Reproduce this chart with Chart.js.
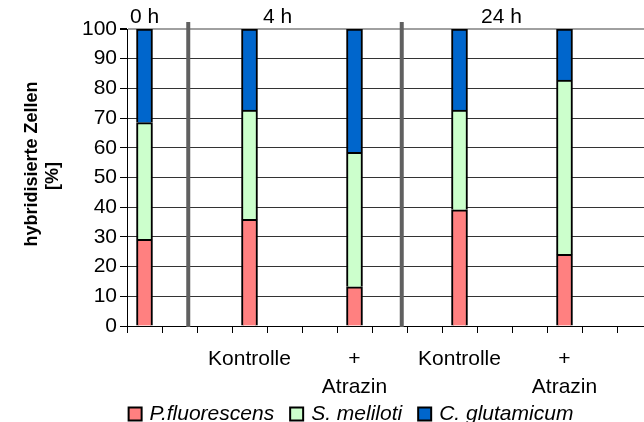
<!DOCTYPE html>
<html>
<head>
<meta charset="utf-8">
<script src="https://cdn.jsdelivr.net/npm/chart.js@4"></script>
<style>
  html, body { margin: 0; padding: 0; background: #fff; overflow: hidden; }
  #wrap { position: relative; width: 660px; height: 422px; }
</style>
</head>
<body>
<div id="wrap"><canvas id="chart"></canvas></div>
<script>
// ---------- data ----------
const categories = ['', '', '', 'Kontrolle', '', '', ['+', 'Atrazin'], '', '', 'Kontrolle', '', '', ['+', 'Atrazin'], '', ''];
const pFluorescens = [29.2, null, null, 35.9, null, null, 13.2, null, null, 39.1, null, null, 24.1, null, null];
const sMeliloti    = [39.3, null, null, 36.8, null, null, 45.3, null, null, 33.6, null, null, 58.7, null, null];
const cGlutamicum  = [31.5, null, null, 27.3, null, null, 41.5, null, null, 27.3, null, null, 17.2, null, null];
const seriesNames  = ['P.fluorescens', 'S. meliloti', 'C. glutamicum'];
const timeLabels   = ['0 h', '4 h', '24 h'];
const timeLabelAt  = [0, 3.8, 10.2];     // category index (fractional)
const separatorAt  = [1.25, 7.35];       // category index (fractional)
const yTitleLines  = ['hybridisierte Zellen', '[%]'];

const FONT = '"Liberation Sans", Arial, sans-serif';

// ---------- extra drawing ----------
const extras = {
  id: 'extras',
  beforeDatasetsDraw(chart) {
    const c = chart.ctx, x = chart.scales.x, y = chart.scales.y;
    c.save();
    c.strokeStyle = '#606060';
    c.lineWidth = 4;
    separatorAt.forEach(v => {
      const px = x.getPixelForValue(v);
      c.beginPath();
      c.moveTo(px, y.top - 7);
      c.lineTo(px, y.bottom + 1);
      c.stroke();
    });
    c.restore();
  },
  afterDraw(chart) {
    const c = chart.ctx, x = chart.scales.x, y = chart.scales.y;
    c.save();
    c.fillStyle = '#000';

    // time labels above the plot
    c.font = '21px ' + FONT;
    c.textAlign = 'center';
    c.textBaseline = 'middle';
    timeLabels.forEach((t, i) => c.fillText(t, x.getPixelForValue(timeLabelAt[i]), 17));

    // y axis title
    c.font = 'bold 18px ' + FONT;
    c.translate(0, 0);
    [[32, 164], [53, 176]].forEach((p, i) => {
      c.save();
      c.translate(p[0], p[1]);
      c.rotate(-Math.PI / 2);
      c.fillText(yTitleLines[i], 0, 0);
      c.restore();
    });

    // legend
    c.font = 'italic 21px ' + FONT;
    c.textAlign = 'left';
    const items = chart.data.datasets.map(d => ({ label: d.label, color: d.backgroundColor, w: c.measureText(d.label).width }));
    const total = items.reduce((s, it) => s + 13 + 8 + it.w, 0) + 16 * (items.length - 1);
    let lx = 351 - total / 2;
    const ly = 414;
    items.forEach(it => {
      c.fillStyle = it.color;
      c.fillRect(lx, ly - 6.5, 13, 13);
      c.strokeStyle = '#000';
      c.lineWidth = 2;
      c.strokeRect(lx, ly - 6.5, 13, 13);
      c.fillStyle = '#000';
      c.fillText(it.label, lx + 21, ly);
      lx += 13 + 8 + it.w + 16;
    });
    c.restore();
  }
};

// ---------- chart ----------
const ctx = document.getElementById('chart').getContext('2d');
const barStyle = { borderColor: '#000', borderWidth: 2, barThickness: 16 };

new Chart(ctx, {
  type: 'bar',
  data: {
    labels: categories,
    datasets: [
      { label: seriesNames[0], data: pFluorescens, backgroundColor: '#FF8080', ...barStyle },
      { label: seriesNames[1], data: sMeliloti,    backgroundColor: '#CCFFCC', ...barStyle },
      { label: seriesNames[2], data: cGlutamicum,  backgroundColor: '#0066CC', ...barStyle }
    ]
  },
  options: {
    responsive: true,
    maintainAspectRatio: false,
    animation: false,
    layout: { padding: { top: 29, left: 0, right: 8, bottom: 0 } },
    plugins: {
      legend: { display: false },
      tooltip: { enabled: false }
    },
    scales: {
      x: {
        stacked: true,
        offset: true,
        afterFit: s => { s.height = 96; },
        border: { color: '#000', width: 1 },
        grid: { offset: true, drawOnChartArea: false, drawTicks: true, tickLength: 7, color: '#000' },
        ticks: {
          autoSkip: false, maxRotation: 0, minRotation: 0, padding: 12, color: '#000',
          font: { family: FONT, size: 21, lineHeight: 28 / 21 }
        }
      },
      y: {
        stacked: true,
        min: 0,
        max: 100,
        afterFit: s => { s.width = 127; },
        border: { color: '#000', width: 1 },
        grid: {
          tickLength: 7,
          color: c => c.tick && c.tick.value === 100 ? '#A0A0A0' : '#333',
          lineWidth: c => c.tick && c.tick.value === 100 ? 2 : 1,
          tickColor: '#000'
        },
        ticks: { stepSize: 10, padding: 3, color: '#000', font: { family: FONT, size: 21 } }
      }
    }
  },
  plugins: [extras]
});
</script>
</body>
</html>
